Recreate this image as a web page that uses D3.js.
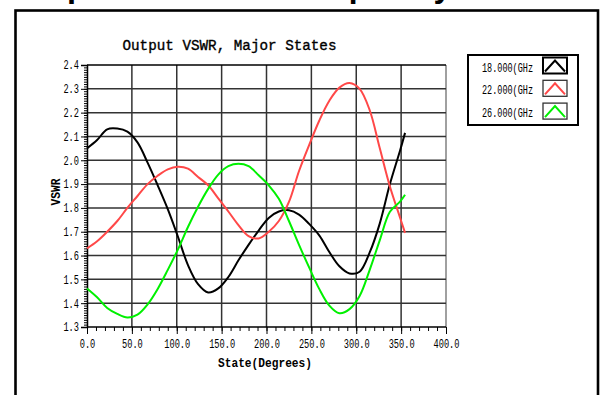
<!DOCTYPE html>
<html>
<head>
<meta charset="utf-8">
<script src="https://cdn.jsdelivr.net/npm/d3@7/dist/d3.min.js"></script>
<style>
  html, body { margin: 0; padding: 0; background: #fff; }
  svg { display: block; }
</style>
</head>
<body>
<svg id="chart" width="601" height="395"></svg>
<script>
// Phase-shifter states (degrees), every second major state plus the last one
const states = [0, 11.25, 22.5, 33.75, 45, 56.25, 67.5, 78.75, 90, 101.25, 112.5, 123.75,
  135, 146.25, 157.5, 168.75, 180, 191.25, 202.5, 213.75, 225, 236.25, 247.5, 258.75,
  270, 281.25, 292.5, 303.75, 315, 326.25, 337.5, 348.75, 354.375];

// Output VSWR at each state
const vswr18 = [2.05, 2.085, 2.13, 2.133, 2.12, 2.075, 1.99, 1.895, 1.795, 1.68, 1.56, 1.48,
  1.445, 1.462, 1.51, 1.58, 1.645, 1.705, 1.758, 1.785, 1.79, 1.772, 1.733, 1.685,
  1.615, 1.555, 1.525, 1.532, 1.613, 1.735, 1.90, 2.04, 2.115];
const vswr22 = [1.63, 1.66, 1.70, 1.745, 1.80, 1.85, 1.90, 1.935, 1.962, 1.973, 1.965, 1.93,
  1.895, 1.84, 1.785, 1.728, 1.682, 1.672, 1.70, 1.745, 1.825, 1.955, 2.064, 2.166,
  2.25, 2.305, 2.324, 2.30, 2.21, 2.05, 1.89, 1.76, 1.695];
const vswr26 = [1.462, 1.425, 1.38, 1.355, 1.34, 1.352, 1.395, 1.46, 1.54, 1.625, 1.72, 1.805,
  1.88, 1.94, 1.975, 1.985, 1.975, 1.937, 1.895, 1.838, 1.745, 1.645, 1.55, 1.46,
  1.39, 1.358, 1.375, 1.43, 1.54, 1.665, 1.784, 1.826, 1.855];

const seriesNames = ["18.000(GHz", "22.000(GHz", "26.000(GHz"];
const seriesColors = ["#000000", "#ff4848", "#00f000"];
const seriesValues = [vswr18, vswr22, vswr26];

const xTicks = [0, 50, 100, 150, 200, 250, 300, 350, 400];
const yTicks = [1.3, 1.4, 1.5, 1.6, 1.7, 1.8, 1.9, 2.0, 2.1, 2.2, 2.3, 2.4];

const MONO = "'Liberation Mono', 'Courier New', monospace";

const svg = d3.select("#chart");

// Page heading above the panel (only its lower edge is on screen)
svg.append("text")
  .attr("x", 11).attr("y", -3)
  .attr("font-family", "'Liberation Sans', Arial, sans-serif")
  .attr("font-weight", "bold").attr("font-size", 32.5)
  .attr("fill", "#000")
  .text("Output VSWR vs. Frequency");

// Panel frame
svg.append("rect")
  .attr("x", 15.5).attr("y", 10.5).attr("width", 582.5).attr("height", 420)
  .attr("fill", "none").attr("stroke", "#000").attr("stroke-width", 2.6);

const x = d3.scaleLinear().domain([0, 400]).range([87, 446]);
const y = d3.scaleLinear().domain([1.3, 2.4]).range([327, 65]);

// Grid
const grid = svg.append("g").attr("stroke", "#333").attr("stroke-width", 1.5);
grid.selectAll("line.v").data(xTicks.slice(1)).join("line")
  .attr("class", "v")
  .attr("x1", d => x(d)).attr("x2", d => x(d))
  .attr("y1", y(2.4)).attr("y2", y(1.3))
  .attr("stroke", d => d === 400 ? "#808080" : null);
grid.selectAll("line.h").data(yTicks.slice(1)).join("line")
  .attr("class", "h")
  .attr("x1", x(0)).attr("x2", x(400))
  .attr("y1", d => y(d)).attr("y2", d => y(d))
  .attr("stroke", d => d === 2.4 ? "#000" : null);

// Minor ticks
const yMinor = d3.range(130, 241).map(v => v / 100);
const xMinor = d3.range(0, 401, 10);
svg.append("g").attr("transform", `translate(${x(0)},0)`)
  .call(d3.axisLeft(y).tickValues(yMinor).tickSize(3).tickFormat(""))
  .call(g => g.select(".domain").remove())
  .selectAll("line").attr("stroke", "#000").attr("stroke-width", 1);
svg.append("g").attr("transform", `translate(0,${y(1.3)})`)
  .call(d3.axisBottom(x).tickValues(xMinor).tickSize(4).tickFormat(""))
  .call(g => g.select(".domain").remove())
  .selectAll("line").attr("stroke", "#000").attr("stroke-width", 1);

// Major axes
const yAxis = svg.append("g").attr("transform", `translate(${x(0)},0)`)
  .call(d3.axisLeft(y).tickValues(yTicks).tickSize(6).tickPadding(2).tickFormat(d3.format(".1f")));
const xAxis = svg.append("g").attr("transform", `translate(0,${y(1.3)})`)
  .call(d3.axisBottom(x).tickValues(xTicks).tickSize(7).tickPadding(5).tickFormat(d3.format(".1f")));

[yAxis, xAxis].forEach(ax => {
  ax.select(".domain").attr("stroke", "#000").attr("stroke-width", 1.5);
  ax.selectAll(".tick line").attr("stroke", "#000").attr("stroke-width", 1);
  ax.selectAll(".tick text")
    .attr("font-family", MONO).attr("font-size", 12).attr("fill", "#000")
    .each(function () {
      const t = d3.select(this);
      t.attr("textLength", t.text().length * 5.2).attr("lengthAdjust", "spacingAndGlyphs");
    });
});
xAxis.select(".domain").attr("d", `M${x(0)},0H${x(400)}`);

// Title
svg.append("text")
  .attr("x", 122.5).attr("y", 50)
  .attr("font-family", MONO).attr("font-size", 14.5)
  .attr("stroke", "#000").attr("stroke-width", 0.35)
  .attr("textLength", 214).attr("lengthAdjust", "spacingAndGlyphs")
  .text("Output VSWR, Major States");

// Axis titles
svg.append("text")
  .attr("x", 265).attr("y", 367).attr("text-anchor", "middle")
  .attr("font-family", MONO).attr("font-size", 13).attr("font-weight", "bold")
  .attr("textLength", 94).attr("lengthAdjust", "spacingAndGlyphs")
  .text("State(Degrees)");
svg.append("text")
  .attr("transform", "translate(60,192) rotate(-90)")
  .attr("text-anchor", "middle")
  .attr("font-family", MONO).attr("font-size", 12.5).attr("font-weight", "bold")
  .attr("textLength", 27).attr("lengthAdjust", "spacingAndGlyphs")
  .text("VSWR");

// Curves
const line = d3.line()
  .x((d, i) => x(states[i]))
  .y(d => y(d))
  .curve(d3.curveCatmullRom.alpha(0.5));
svg.append("g").selectAll("path").data(seriesValues).join("path")
  .attr("d", d => line(d))
  .attr("fill", "none")
  .attr("stroke", (d, i) => seriesColors[i])
  .attr("stroke-width", 2)
  .attr("stroke-linejoin", "round");

// Legend
const legend = svg.append("g");
legend.append("rect")
  .attr("x", 468).attr("y", 55).attr("width", 110).attr("height", 70)
  .attr("fill", "#fff").attr("stroke", "#000").attr("stroke-width", 2);
const rows = legend.selectAll("g.row").data(seriesNames).join("g")
  .attr("class", "row")
  .attr("transform", (d, i) => `translate(0,${71.5 + i * 22.8})`);
rows.append("text")
  .attr("x", 482).attr("y", 0)
  .attr("font-family", MONO).attr("font-size", 12)
  .attr("textLength", 51).attr("lengthAdjust", "spacingAndGlyphs")
  .text(d => d);
rows.append("rect")
  .attr("x", 543).attr("y", -14).attr("width", 24).attr("height", 16)
  .attr("fill", "#fff").attr("stroke", (d, i) => i === 0 ? "#000" : "#333")
  .attr("stroke-width", (d, i) => i === 0 ? 2 : 1.3);
rows.append("path")
  .attr("d", "M545,0L555,-11L565,0")
  .attr("fill", "none")
  .attr("stroke", (d, i) => seriesColors[i])
  .attr("stroke-width", 2);
</script>
</body>
</html>
